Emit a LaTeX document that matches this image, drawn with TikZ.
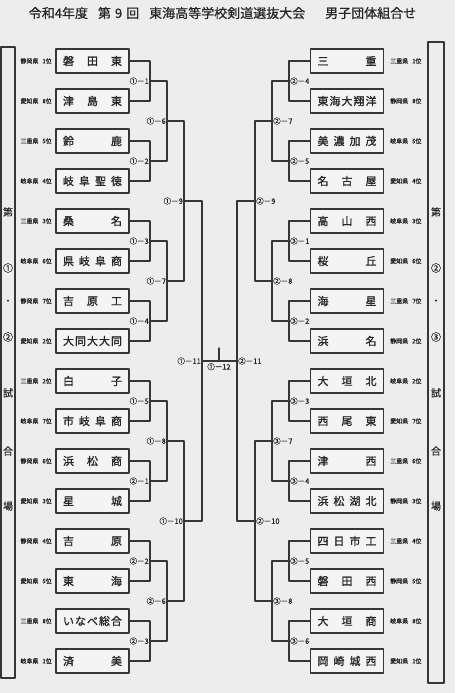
\documentclass[tikz,border=0pt]{standalone}
\usepackage{fontspec}
\setmainfont{Noto Sans CJK JP}
\newfontfamily\gruesa{Noto Sans CJK JP}[FakeBold=1.2]
\newfontfamily\media{Noto Sans CJK JP}[FakeBold=0.6]
\usetikzlibrary{positioning, calc}
\definecolor{paper}{HTML}{EDEDED}
\definecolor{ink}{HTML}{262626}
\definecolor{lineink}{HTML}{363636}
\newcommand{\escuela}[1]{\hbox to 59pt{#1}}

\begin{document}
\begin{tikzpicture}[x=1pt, y=-1pt, line cap=round, line join=round,
    team/.style={draw=lineink, line width=1.1pt, fill=paper!60!white, minimum width=73pt, minimum height=24pt, inner sep=0pt, text=ink, font=\gruesa\fontsize{11}{13}\selectfont},
    pref/.style={text=ink, inner sep=0pt, font=\media\fontsize{6}{7}\selectfont},
    matchl/.style={anchor=east, text=ink, inner sep=1pt, font=\media\fontsize{7.5}{9}\selectfont},
    matchr/.style={anchor=west, text=ink, inner sep=1pt, font=\media\fontsize{7.5}{9}\selectfont},
    bracket/.style={draw=lineink, line width=1.3pt},
    panel/.style={text=ink, font=\media\fontsize{10}{12}\selectfont}]
      % Fondo
      \fill[paper] (0,0) rectangle (455,693);
      \useasboundingbox (0,0) rectangle (455,693);

      % Titulo
      \node[text=ink, font=\media\fontsize{13}{15}\selectfont] (titulo) at (222.5,13) {令和4年度\hspace{10pt}第\hspace{4pt}9\hspace{4pt}回\hspace{10pt}東海高等学校剣道選抜大会\hspace{20pt}男子団体組合せ};

      % Columnas laterales
      \draw[draw=lineink, line width=1.1pt] (1,47) rectangle (15,678);
      \draw[draw=lineink, line width=1.1pt] (428,42) rectangle (444,683);
      \node[panel] (sl1) at (8,212) {第};
      \node[panel] (sl2) at (8,268) {①};
      \node[panel] (sl3) at (8,302) {・};
      \node[panel] (sl4) at (8,337) {②};
      \node[panel] (sl5) at (8,393) {試};
      \node[panel] (sl6) at (8,451) {合};
      \node[panel] (sl7) at (8,506) {場};
      \node[panel] (sr1) at (436,212) {第};
      \node[panel] (sr2) at (436,268) {②};
      \node[panel] (sr3) at (436,302) {・};
      \node[panel] (sr4) at (436,337) {③};
      \node[panel] (sr5) at (436,393) {試};
      \node[panel] (sr6) at (436,451) {合};
      \node[panel] (sr7) at (436,506) {場};

      % Equipos izquierda
      \node[team] (l1) at (92.5,61) {\escuela{磐\hfill 田\hfill 東}};
      \node[team] (l2) at (92.5,101) {\escuela{津\hfill 島\hfill 東}};
      \node[team] (l3) at (92.5,141) {\escuela{鈴\hfill 鹿}};
      \node[team] (l4) at (92.5,181) {\escuela{岐\hfill 阜\hfill 聖\hfill 徳}};
      \node[team] (l5) at (92.5,221) {\escuela{桑\hfill 名}};
      \node[team] (l6) at (92.5,261) {\escuela{県\hfill 岐\hfill 阜\hfill 商}};
      \node[team] (l7) at (92.5,301) {\escuela{吉\hfill 原\hfill 工}};
      \node[team] (l8) at (92.5,341) {\escuela{大\hfill 同\hfill 大\hfill 大\hfill 同}};
      \node[team] (l9) at (92.5,381) {\escuela{白\hfill 子}};
      \node[team] (l10) at (92.5,421) {\escuela{市\hfill 岐\hfill 阜\hfill 商}};
      \node[team] (l11) at (92.5,461) {\escuela{浜\hfill 松\hfill 商}};
      \node[team] (l12) at (92.5,501) {\escuela{星\hfill 城}};
      \node[team] (l13) at (92.5,541) {\escuela{吉\hfill 原}};
      \node[team] (l14) at (92.5,581) {\escuela{東\hfill 海}};
      \node[team] (l15) at (92.5,621) {\escuela{い\hfill な\hfill べ\hfill 総\hfill 合}};
      \node[team] (l16) at (92.5,661) {\escuela{済\hfill 美}};

      \node[pref, anchor=east] (pl1) at (52,61) {静岡県\hspace{4pt}1位};
      \node[pref, anchor=east] (pl2) at (52,101) {愛知県\hspace{4pt}8位};
      \node[pref, anchor=east] (pl3) at (52,141) {三重県\hspace{4pt}5位};
      \node[pref, anchor=east] (pl4) at (52,181) {岐阜県\hspace{4pt}4位};
      \node[pref, anchor=east] (pl5) at (52,221) {三重県\hspace{4pt}3位};
      \node[pref, anchor=east] (pl6) at (52,261) {岐阜県\hspace{4pt}6位};
      \node[pref, anchor=east] (pl7) at (52,301) {静岡県\hspace{4pt}7位};
      \node[pref, anchor=east] (pl8) at (52,341) {愛知県\hspace{4pt}2位};
      \node[pref, anchor=east] (pl9) at (52,381) {三重県\hspace{4pt}2位};
      \node[pref, anchor=east] (pl10) at (52,421) {岐阜県\hspace{4pt}7位};
      \node[pref, anchor=east] (pl11) at (52,461) {静岡県\hspace{4pt}6位};
      \node[pref, anchor=east] (pl12) at (52,501) {愛知県\hspace{4pt}3位};
      \node[pref, anchor=east] (pl13) at (52,541) {静岡県\hspace{4pt}4位};
      \node[pref, anchor=east] (pl14) at (52,581) {愛知県\hspace{4pt}5位};
      \node[pref, anchor=east] (pl15) at (52,621) {三重県\hspace{4pt}8位};
      \node[pref, anchor=east] (pl16) at (52,661) {岐阜県\hspace{4pt}1位};

      % Equipos derecha
      \node[team] (r1) at (347,61) {\escuela{三\hfill 重}};
      \node[team] (r2) at (347,101) {\escuela{東\hfill 海\hfill 大\hfill 翔\hfill 洋}};
      \node[team] (r3) at (347,141) {\escuela{美\hfill 濃\hfill 加\hfill 茂}};
      \node[team] (r4) at (347,181) {\escuela{名\hfill 古\hfill 屋}};
      \node[team] (r5) at (347,221) {\escuela{高\hfill 山\hfill 西}};
      \node[team] (r6) at (347,261) {\escuela{桜\hfill 丘}};
      \node[team] (r7) at (347,301) {\escuela{海\hfill 星}};
      \node[team] (r8) at (347,341) {\escuela{浜\hfill 名}};
      \node[team] (r9) at (347,381) {\escuela{大\hfill 垣\hfill 北}};
      \node[team] (r10) at (347,421) {\escuela{西\hfill 尾\hfill 東}};
      \node[team] (r11) at (347,461) {\escuela{津\hfill 西}};
      \node[team] (r12) at (347,501) {\escuela{浜\hfill 松\hfill 湖\hfill 北}};
      \node[team] (r13) at (347,541) {\escuela{四\hfill 日\hfill 市\hfill 工}};
      \node[team] (r14) at (347,581) {\escuela{磐\hfill 田\hfill 西}};
      \node[team] (r15) at (347,621) {\escuela{大\hfill 垣\hfill 商}};
      \node[team] (r16) at (347,661) {\escuela{岡\hfill 崎\hfill 城\hfill 西}};

      \node[pref, anchor=west] (pr1) at (390,61) {三重県\hspace{4pt}1位};
      \node[pref, anchor=west] (pr2) at (390,101) {静岡県\hspace{4pt}8位};
      \node[pref, anchor=west] (pr3) at (390,141) {岐阜県\hspace{4pt}5位};
      \node[pref, anchor=west] (pr4) at (390,181) {愛知県\hspace{4pt}4位};
      \node[pref, anchor=west] (pr5) at (390,221) {岐阜県\hspace{4pt}3位};
      \node[pref, anchor=west] (pr6) at (390,261) {愛知県\hspace{4pt}6位};
      \node[pref, anchor=west] (pr7) at (390,301) {三重県\hspace{4pt}7位};
      \node[pref, anchor=west] (pr8) at (390,341) {静岡県\hspace{4pt}2位};
      \node[pref, anchor=west] (pr9) at (390,381) {岐阜県\hspace{4pt}2位};
      \node[pref, anchor=west] (pr10) at (390,421) {愛知県\hspace{4pt}7位};
      \node[pref, anchor=west] (pr11) at (390,461) {三重県\hspace{4pt}6位};
      \node[pref, anchor=west] (pr12) at (390,501) {静岡県\hspace{4pt}3位};
      \node[pref, anchor=west] (pr13) at (390,541) {三重県\hspace{4pt}4位};
      \node[pref, anchor=west] (pr14) at (390,581) {静岡県\hspace{4pt}5位};
      \node[pref, anchor=west] (pr15) at (390,621) {岐阜県\hspace{4pt}8位};
      \node[pref, anchor=west] (pr16) at (390,661) {愛知県\hspace{4pt}1位};

      % Cruces izquierda
      \coordinate (a1) at (150,81);  \coordinate (a2) at (150,161);
      \coordinate (a3) at (150,241); \coordinate (a4) at (150,321);
      \coordinate (a5) at (150,401); \coordinate (a6) at (150,481);
      \coordinate (a7) at (150,561); \coordinate (a8) at (150,641);
      \coordinate (b1) at (167,121); \coordinate (b2) at (167,281);
      \coordinate (b3) at (167,441); \coordinate (b4) at (167,601);
      \coordinate (c1) at (184,201); \coordinate (c2) at (184,521);
      \coordinate (d1) at (202,361);

      \draw[bracket] (l1.east) -| (a1) |- (l2.east);
      \draw[bracket] (l3.east) -| (a2) |- (l4.east);
      \draw[bracket] (l5.east) -| (a3) |- (l6.east);
      \draw[bracket] (l7.east) -| (a4) |- (l8.east);
      \draw[bracket] (l9.east) -| (a5) |- (l10.east);
      \draw[bracket] (l11.east) -| (a6) |- (l12.east);
      \draw[bracket] (l13.east) -| (a7) |- (l14.east);
      \draw[bracket] (l15.east) -| (a8) |- (l16.east);
      \draw[bracket] (a1) -| (b1) |- (a2);
      \draw[bracket] (a3) -| (b2) |- (a4);
      \draw[bracket] (a5) -| (b3) |- (a6);
      \draw[bracket] (a7) -| (b4) |- (a8);
      \draw[bracket] (b1) -| (c1) |- (b2);
      \draw[bracket] (b3) -| (c2) |- (b4);
      \draw[bracket] (c1) -| (d1) |- (c2);

      \node[matchl] (ml1) at (a1) {①－1};
      \node[matchl] (ml2) at (a2) {①－2};
      \node[matchl] (ml3) at (a3) {①－3};
      \node[matchl] (ml4) at (a4) {①－4};
      \node[matchl] (ml5) at (a5) {①－5};
      \node[matchl] (ml6) at (a6) {②－1};
      \node[matchl] (ml7) at (a7) {②－2};
      \node[matchl] (ml8) at (a8) {②－3};
      \node[matchl] (ml9) at (b1) {①－6};
      \node[matchl] (ml10) at (b2) {①－7};
      \node[matchl] (ml11) at (b3) {①－8};
      \node[matchl] (ml12) at (b4) {②－6};
      \node[matchl] (ml13) at (c1) {①－9};
      \node[matchl] (ml14) at (c2) {①－10};
      \node[matchl] (ml15) at (d1) {①－11};

      % Cruces derecha
      \coordinate (e1) at (289,81);  \coordinate (e2) at (289,161);
      \coordinate (e3) at (289,241); \coordinate (e4) at (289,321);
      \coordinate (e5) at (289,401); \coordinate (e6) at (289,481);
      \coordinate (e7) at (289,561); \coordinate (e8) at (289,641);
      \coordinate (f1) at (272,121); \coordinate (f2) at (272,281);
      \coordinate (f3) at (272,441); \coordinate (f4) at (272,601);
      \coordinate (g1) at (255,201); \coordinate (g2) at (255,521);
      \coordinate (h1) at (237,361);

      \draw[bracket] (r1.west) -| (e1) |- (r2.west);
      \draw[bracket] (r3.west) -| (e2) |- (r4.west);
      \draw[bracket] (r5.west) -| (e3) |- (r6.west);
      \draw[bracket] (r7.west) -| (e4) |- (r8.west);
      \draw[bracket] (r9.west) -| (e5) |- (r10.west);
      \draw[bracket] (r11.west) -| (e6) |- (r12.west);
      \draw[bracket] (r13.west) -| (e7) |- (r14.west);
      \draw[bracket] (r15.west) -| (e8) |- (r16.west);
      \draw[bracket] (e1) -| (f1) |- (e2);
      \draw[bracket] (e3) -| (f2) |- (e4);
      \draw[bracket] (e5) -| (f3) |- (e6);
      \draw[bracket] (e7) -| (f4) |- (e8);
      \draw[bracket] (f1) -| (g1) |- (f2);
      \draw[bracket] (f3) -| (g2) |- (f4);
      \draw[bracket] (g1) -| (h1) |- (g2);

      \node[matchr] (mr1) at (e1) {②－4};
      \node[matchr] (mr2) at (e2) {②－5};
      \node[matchr] (mr3) at (e3) {③－1};
      \node[matchr] (mr4) at (e4) {③－2};
      \node[matchr] (mr5) at (e5) {③－3};
      \node[matchr] (mr6) at (e6) {③－4};
      \node[matchr] (mr7) at (e7) {③－5};
      \node[matchr] (mr8) at (e8) {③－6};
      \node[matchr] (mr9) at (f1) {②－7};
      \node[matchr] (mr10) at (f2) {②－8};
      \node[matchr] (mr11) at (f3) {③－7};
      \node[matchr] (mr12) at (f4) {③－8};
      \node[matchr] (mr13) at (g1) {②－9};
      \node[matchr] (mr14) at (g2) {②－10};
      \node[matchr] (mr15) at (h1) {②－11};

      % Final
      \coordinate (k) at (219,361);
      \coordinate (kt) at (219,348);
      \draw[bracket] (d1) -- (h1);
      \draw[bracket] (k) -- (kt);
      \node[anchor=north, text=ink, inner sep=1pt, font=\media\fontsize{7.5}{9}\selectfont] (final) at (219,362) {①－12};
    \end{tikzpicture}
\end{document}
